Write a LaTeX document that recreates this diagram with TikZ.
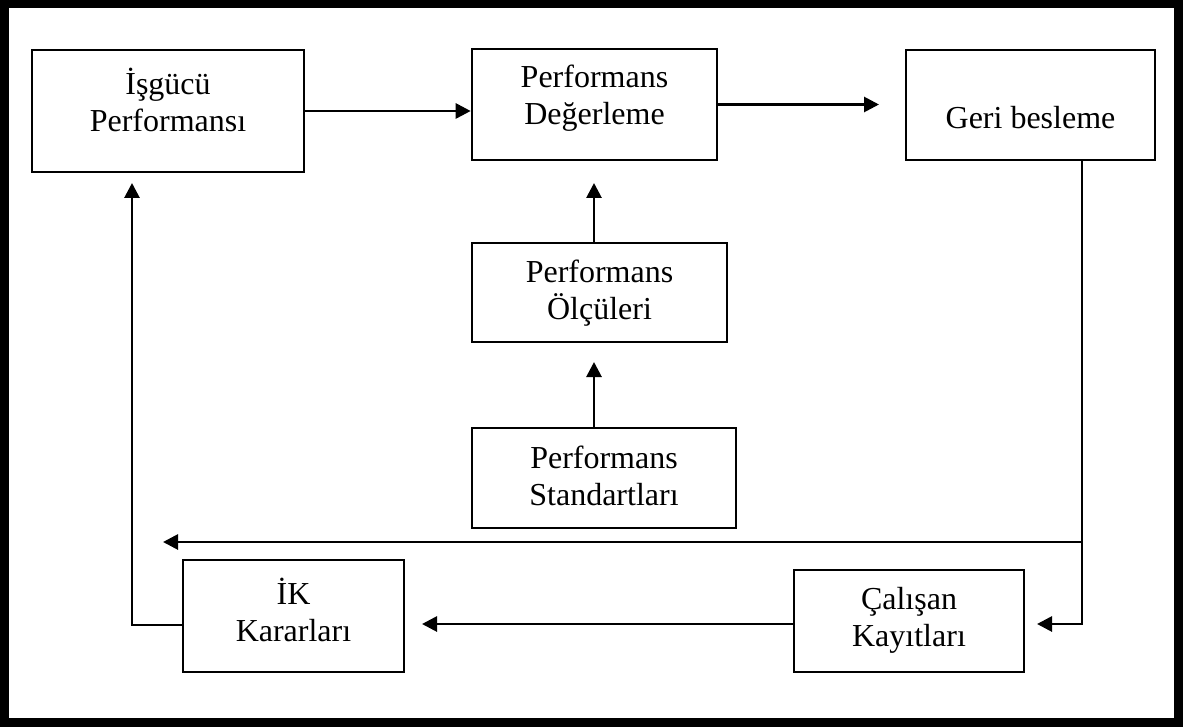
\documentclass[tikz,border=0pt]{standalone}
\usepackage{fontspec}
\setmainfont{Liberation Serif}
\usetikzlibrary{arrows.meta}
\begin{document}
\begin{tikzpicture}[x=1pt,y=-1pt,
  box/.style={draw,line width=2.6pt,minimum width=#1,inner sep=0pt},
  lbl/.style={align=center,inner sep=0pt,font=\fontsize{32}{37}\selectfont},
  arr/.style={line width=2.8pt,-{Triangle[length=15pt,width=15pt]}},
  wire/.style={line width=2.8pt}]
\useasboundingbox (0,0) rectangle (1185,727);
\draw[line width=8.5pt] (4.5,4) rectangle (1178.5,722.5);

% boxes
\node[box=272pt,minimum height=122pt] (b1) at (168,111) {};
\node[box=245pt,minimum height=111pt] (b2) at (594.5,104.5) {};
\node[box=249pt,minimum height=110pt] (b3) at (1030.5,105) {};
\node[box=255pt,minimum height=99pt]  (b4) at (599.5,292.5) {};
\node[box=264pt,minimum height=100pt] (b5) at (604,478) {};
\node[box=221pt,minimum height=112pt] (b6) at (293.5,616) {};
\node[box=230pt,minimum height=102pt] (b7) at (909,621) {};

% labels
\node[lbl] (t1) at (168,100) {İşgücü\\Performansı};
\node[lbl] (t2) at (594.5,98.5) {Performans\\Değerleme};
\node[lbl] (t3) at (1030.5,118) {Geri besleme};
\node[lbl] (t4) at (599.5,293.5) {Performans\\Ölçüleri};
\node[lbl] (t5) at (604,476) {Performans\\Standartları};
\node[lbl] (t6) at (293.5,609.5) {İK\\Kararları};
\node[lbl] (t7) at (909,620) {Çalışan\\Kayıtları};

% routing points
\coordinate (fb) at (879,104.5);
\coordinate (r1) at (1082,542);
\coordinate (r2) at (1082,624);
\coordinate (c7) at (1037,624);
\coordinate (fl) at (163,542);
\coordinate (ik) at (422,624);
\coordinate (l1) at (132,625);
\coordinate (l2) at (132,183);
\coordinate (m1) at (594,183);
\coordinate (m2) at (594,362);

% connectors
\draw[arr] (b1.east) -- (b1.east -| b2.west);
\draw[arr] (b2.east) -- (fb);
\draw[arr] (r1 |- b3.south) -- (r2) -- (c7);
\draw[arr] (r1) -- (fl);
\draw[arr] (b7.west |- ik) -- (ik);
\draw[arr] (b6.west |- l1) -- (l1) -- (l2);
\draw[arr] (m1 |- b4.north) -- (m1);
\draw[arr] (m2 |- b5.north) -- (m2);
\end{tikzpicture}
\end{document}
